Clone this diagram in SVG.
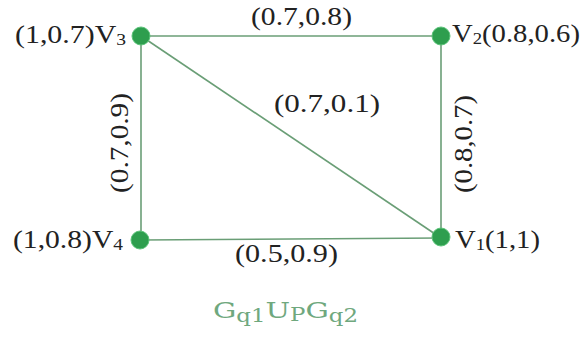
<svg xmlns="http://www.w3.org/2000/svg" width="585" height="341" viewBox="0 0 585 341">
<style>
.e{stroke:#6a9e76;stroke-width:1.6;fill:none}
.n{fill:#2e9e4e;stroke:#5cc47a;stroke-width:1}
.t{font-family:"Liberation Serif",serif;font-size:26px;fill:#222}
.s{font-size:17px}
.c{font-family:"DejaVu Serif","Liberation Serif",serif;font-size:23px;font-weight:normal;fill:#6fa87e}
.cs{font-size:18px}
</style>
<rect width="585" height="341" fill="#fff"/>
<g id="edges">
<line class="e" x1="141" y1="36" x2="441" y2="36"/>
<line class="e" x1="141" y1="36" x2="141" y2="240"/>
<line class="e" x1="441" y1="36" x2="441" y2="238"/>
<line class="e" x1="141" y1="240" x2="441" y2="238"/>
<line class="e" x1="141" y1="36" x2="441" y2="238"/>
<text class="t" x="251" y="25" textLength="101" lengthAdjust="spacingAndGlyphs">(0.7,0.8)</text>
<text class="t" x="274" y="112" textLength="106" lengthAdjust="spacingAndGlyphs">(0.7,0.1)</text>
<text class="t" x="235" y="262" textLength="103" lengthAdjust="spacingAndGlyphs">(0.5,0.9)</text>
<text class="t" transform="translate(128,193) rotate(-90)" textLength="100" lengthAdjust="spacingAndGlyphs">(0.7,0.9)</text>
<text class="t" transform="translate(472,193) rotate(-90)" textLength="98" lengthAdjust="spacingAndGlyphs">(0.8,0.7)</text>
</g>
<g id="v3"><circle class="n" cx="141" cy="36" r="9"/><text class="t" x="15" y="43" textLength="111" lengthAdjust="spacingAndGlyphs">(1,0.7)V<tspan class="s" dy="2">3</tspan></text></g>
<g id="v2"><circle class="n" cx="441" cy="36" r="9"/><text class="t" x="452" y="42" textLength="128" lengthAdjust="spacingAndGlyphs">V<tspan class="s" dy="2">2</tspan><tspan dy="-2">(0.8,0.6)</tspan></text></g>
<g id="v4"><circle class="n" cx="140" cy="240" r="9"/><text class="t" x="13" y="248" textLength="110" lengthAdjust="spacingAndGlyphs">(1,0.8)V<tspan class="s" dy="2">4</tspan></text></g>
<g id="v1"><circle class="n" cx="441" cy="237" r="9"/><text class="t" x="455" y="248" textLength="85" lengthAdjust="spacingAndGlyphs">V<tspan class="s" dy="2">1</tspan><tspan dy="-2">(1,1)</tspan></text></g>
<g id="caption"><text class="c" x="213" y="318" textLength="145" lengthAdjust="spacingAndGlyphs">G<tspan class="cs" dy="4">q1</tspan><tspan dy="-4">U</tspan><tspan class="cs" dy="3">P</tspan><tspan dy="-3">G</tspan><tspan class="cs" dy="4">q2</tspan></text></g>
</svg>
